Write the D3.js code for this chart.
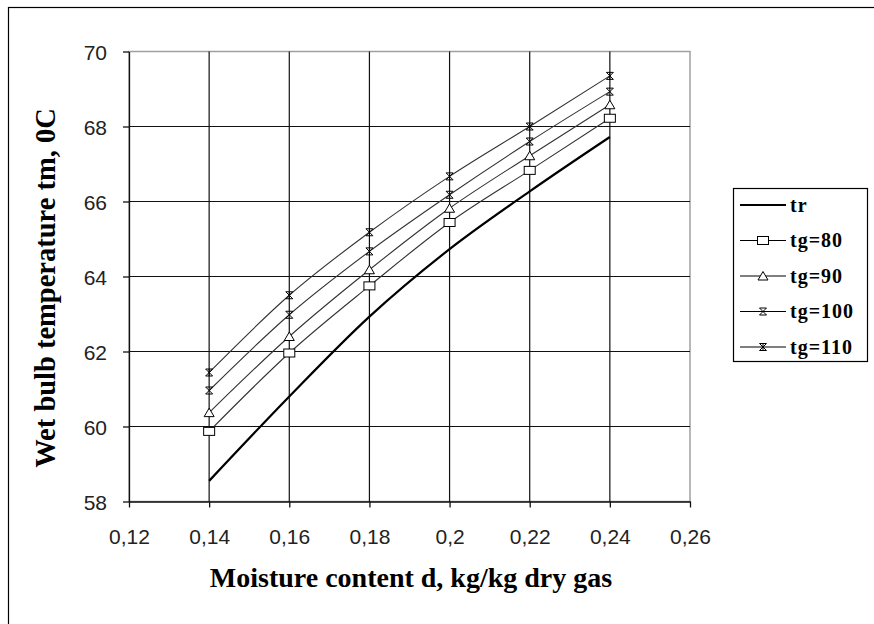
<!DOCTYPE html>
<html><head><meta charset="utf-8">
<script src="https://cdn.jsdelivr.net/npm/d3@7"></script>
<style>body{margin:0;background:#fff;}svg{display:block;}</style>
</head><body>
<svg id="c" width="874" height="624"></svg>
<script>
const moisture = [0.14, 0.16, 0.18, 0.20, 0.22, 0.24];
const tr    = [58.55, 60.80, 62.93, 64.73, 66.27, 67.72];
const tg80  = [59.87, 61.96, 63.75, 65.44, 66.83, 68.22];
const tg90  = [60.37, 62.40, 64.18, 65.82, 67.22, 68.58];
const tg100 = [60.96, 62.98, 64.67, 66.18, 67.60, 68.93];
const tg110 = [61.44, 63.50, 65.18, 66.67, 68.00, 69.35];
const seriesNames = ["tr", "tg=80", "tg=90", "tg=100", "tg=110"];
const xTicks = [0.12, 0.14, 0.16, 0.18, 0.20, 0.22, 0.24, 0.26];
const yTicks = [58, 60, 62, 64, 66, 68, 70];

const SERIF = "'Liberation Serif', 'Times New Roman', 'DejaVu Serif', serif";
const SANS = "'Liberation Sans', Arial, sans-serif";

const svg = d3.select("#c");
const L = 129, R = 690, T = 51.5, B = 501.5;
const x = d3.scaleLinear().domain([0.12, 0.26]).range([L, R]);
const y = d3.scaleLinear().domain([58, 70]).range([B, T]);

// outer frame
svg.append("rect").attr("x", 8.5).attr("y", 7.5).attr("width", 900).attr("height", 700)
  .attr("fill", "none").attr("stroke", "#000").attr("stroke-width", 1.2);

// plot border (top/right gray)
svg.append("rect").attr("x", L).attr("y", T).attr("width", R - L).attr("height", B - T)
  .attr("fill", "none").attr("stroke", "#a0a0a0").attr("stroke-width", 1.5);

// grid
const g = svg.append("g");
g.selectAll(".hg").data(yTicks.filter(v => v > 58 && v < 70)).join("line")
  .attr("x1", L).attr("x2", R).attr("y1", d => y(d)).attr("y2", d => y(d))
  .attr("stroke", "#111").attr("stroke-width", 1.2);
g.selectAll(".vg").data(xTicks.filter(v => v > 0.121 && v < 0.259)).join("line")
  .attr("y1", T).attr("y2", B).attr("x1", d => x(d)).attr("x2", d => x(d))
  .attr("stroke", "#111").attr("stroke-width", 1.2);

const fmtX = d => (+d.toFixed(2)).toString().replace(".", ",");
const xAxis = d3.axisBottom(x).tickValues(xTicks).tickFormat(fmtX).tickSize(6).tickSizeOuter(0);
const yAxis = d3.axisLeft(y).tickValues(yTicks).tickFormat(d3.format("d")).tickSize(6).tickSizeOuter(0);
const xa = svg.append("g").attr("transform", `translate(0,${B})`).call(xAxis);
const ya = svg.append("g").attr("transform", `translate(${L},0)`).call(yAxis);
[xa, ya].forEach(a => {
  a.selectAll("path,line").attr("stroke", "#111").attr("stroke-width", 1.3);
  a.selectAll("text").attr("font-family", SANS).attr("font-size", 21).attr("fill", "#222");
});
xa.selectAll("text").attr("y", 42).attr("dy", 0);
ya.selectAll("text").attr("x", -22).attr("dy", "0.36em");

// lines
const data = [tr, tg80, tg90, tg100, tg110];
const line = d3.line().x((d, i) => x(moisture[i])).y(d => y(d)).curve(d3.curveMonotoneX);
data.forEach((vals, k) => {
  svg.append("path").datum(vals).attr("d", line).attr("fill", "none")
    .attr("stroke", k === 0 ? "#000" : "#333").attr("stroke-width", k === 0 ? 2.2 : 1.1);
});

function marker(sel, k, cx, cy) {
  const gg = sel.append("g").attr("transform", `translate(${cx},${cy})`);
  if (k === 1) {
    gg.append("rect").attr("x", -5.5).attr("y", -4).attr("width", 11).attr("height", 8)
      .attr("fill", "#fff").attr("stroke", "#000").attr("stroke-width", 1);
  } else if (k === 2) {
    gg.append("path").attr("d", "M0,-4.5 L5,4 L-5,4 Z")
      .attr("fill", "#fff").attr("stroke", "#000").attr("stroke-width", 1);
  } else if (k === 3 || k === 4) {
    gg.append("path").attr("d", "M-3.5,-3.5 L3.5,3.5 M-3.5,3.5 L3.5,-3.5 M-3.5,-3.5 L3.5,-3.5 M-3.5,3.5 L3.5,3.5" + (k === 4 ? " M0,-3.5 L0,3.5" : ""))
      .attr("stroke", "#000").attr("stroke-width", 1).attr("fill", "none");
  }
}
data.forEach((vals, k) => {
  if (k === 0) return;
  vals.forEach((v, i) => marker(svg, k, x(moisture[i]), y(v)));
});

// axis titles
svg.append("text").attr("x", 411).attr("y", 587).attr("text-anchor", "middle")
  .attr("font-family", SERIF).attr("font-weight", "bold").attr("font-size", 28)
  .text("Moisture content d, kg/kg dry gas");
svg.append("text").attr("transform", "translate(55,288) rotate(-90)").attr("text-anchor", "middle")
  .attr("font-family", SERIF).attr("font-weight", "bold").attr("font-size", 28.5)
  .text("Wet bulb temperature tm, 0C");

// legend
const lg = svg.append("g");
lg.append("rect").attr("x", 733.5).attr("y", 188.5).attr("width", 134).attr("height", 173)
  .attr("fill", "#fff").attr("stroke", "#000").attr("stroke-width", 1.2);
seriesNames.forEach((name, k) => {
  const yy = 205 + k * 35.5;
  lg.append("line").attr("x1", 740).attr("x2", 786).attr("y1", yy).attr("y2", yy)
    .attr("stroke", "#000").attr("stroke-width", k === 0 ? 2.2 : 1.1);
  if (k > 0) marker(lg, k, 763, yy);
  lg.append("text").attr("x", 790).attr("y", yy + 6.5)
    .attr("font-family", SERIF).attr("font-weight", "bold").attr("font-size", 20)
    .attr("letter-spacing", 1).text(name);
});
</script>
</body></html>
